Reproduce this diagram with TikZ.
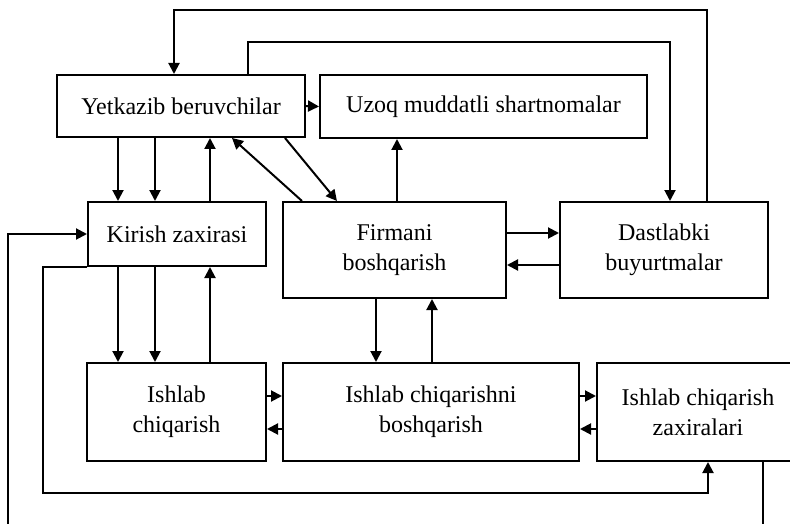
\documentclass[tikz,border=0pt]{standalone}
\usepackage{fontspec}
\setmainfont{Liberation Serif}
\usetikzlibrary{arrows.meta,positioning}
\tikzset{
  stagebox/.style={draw, line width=2pt, align=center, inner sep=0pt, font=\fontsize{24}{30}\selectfont},
  arrow/.style={-{Triangle[length=11pt,width=11pt]}, line width=2pt},
  link/.style={line width=2pt}
}

\begin{document}
\begin{tikzpicture}[x=1pt, y=-1pt]
    \useasboundingbox (0,0) rectangle (790,524);

    \node[stagebox, minimum width=248pt, minimum height=62pt] (suppliers) at (181,106) {Yetkazib beruvchilar};
    \node[stagebox, minimum width=327pt, minimum height=63pt] (contracts) at (483.5,106.5) {Uzoq muddatli shartnomalar};
    \node[stagebox, minimum width=178pt, minimum height=64pt] (inputstock) at (177,234) {Kirish zaxirasi};
    \node[stagebox, minimum width=223pt, minimum height=96pt] (firm) at (394.5,250) {Firmani\\boshqarish};
    \node[stagebox, minimum width=208pt, minimum height=96pt] (orders) at (664,250) {Dastlabki\\buyurtmalar};
    \node[stagebox, minimum width=179pt, minimum height=98pt] (production) at (176.5,412) {Ishlab\\chiqarish};
    \node[stagebox, minimum width=296pt, minimum height=98pt] (prodctrl) at (431,412) {Ishlab chiqarishni\\boshqarish};
    \node[stagebox, minimum width=202pt, minimum height=98pt] (prodstock) at (698,412) {Ishlab chiqarish\\zaxiralari};

    % columns and rows of the connectors
    \foreach \name/\pos in {inA/118, inB/155, inC/210, diagA/232, diagB/285, diagC/302, diagD/337,
                            firmUp/397, ctrlA/376, ctrlB/432, loopB/248, loopD/707, stockIn/708}
      \coordinate (\name) at (\pos,0);
    \foreach \name/\pos in {rowA/233, rowB/265, rowC/396, rowD/429}
      \coordinate (\name) at (0,\pos);
    \coordinate (outerTop) at (174,10);
    \coordinate (innerTop) at (670,42);
    \coordinate (bottomLeft) at (43,493);
    \coordinate (leftEnd) at (8,524);
    \coordinate (rightEnd) at (763,524);

    % loops over the top
    \draw[arrow] (orders.north -| loopD) |- (outerTop) -- (suppliers.north -| outerTop);
    \draw[arrow] (suppliers.north -| loopB) |- (innerTop) -- (orders.north -| innerTop);
    \draw[arrow] (suppliers.east) -- (contracts.west);

    % supplies, stock and production
    \foreach \c in {inA, inB} {
      \draw[arrow] (suppliers.south -| \c) -- (inputstock.north -| \c);
      \draw[arrow] (inputstock.south -| \c) -- (production.north -| \c);
    }
    \draw[arrow] (inputstock.north -| inC) -- (suppliers.south -| inC);
    \draw[arrow] (production.north -| inC) -- (inputstock.south -| inC);

    \draw[arrow] (firm.north -| diagC) -- (suppliers.south -| diagA);
    \draw[arrow] (suppliers.south -| diagB) -- (firm.north -| diagD);
    \draw[arrow] (firm.north -| firmUp) -- (contracts.south -| firmUp);

    \draw[arrow] (firm.east |- rowA) -- (orders.west |- rowA);
    \draw[arrow] (orders.west |- rowB) -- (firm.east |- rowB);
    \draw[arrow] (firm.south -| ctrlA) -- (prodctrl.north -| ctrlA);
    \draw[arrow] (prodctrl.north -| ctrlB) -- (firm.south -| ctrlB);

    \draw[arrow] (production.east |- rowC) -- (prodctrl.west |- rowC);
    \draw[arrow] (prodctrl.west |- rowD) -- (production.east |- rowD);
    \draw[arrow] (prodctrl.east |- rowC) -- (prodstock.west |- rowC);
    \draw[arrow] (prodstock.west |- rowD) -- (prodctrl.east |- rowD);

    % feedback lines round the sides
    \draw[arrow] (leftEnd) |- (inputstock.west);
    \draw[arrow] (inputstock.south west) -| (bottomLeft) -| (prodstock.south -| stockIn);
    \draw[link] (prodstock.south -| rightEnd) -- (rightEnd);
  \end{tikzpicture}
\end{document}
